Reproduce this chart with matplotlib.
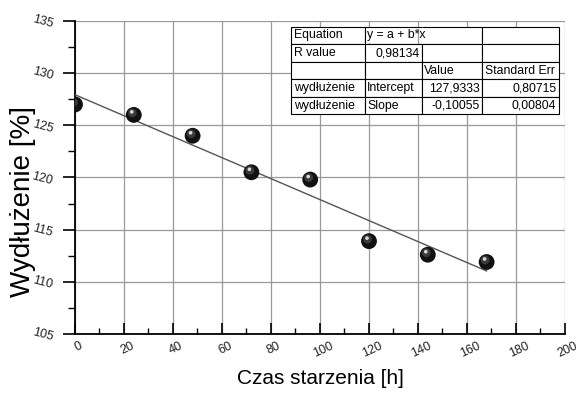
import matplotlib
matplotlib.use('Agg')
from matplotlib import pyplot as plt
from matplotlib import ticker, transforms
import numpy as np

plt.rcParams['font.family'] = ['Liberation Sans', 'DejaVu Sans']

# data
czas = [0, 24, 48, 72, 96, 120, 144, 168]
wydluzenie = [127.0, 126.0, 124.0, 120.5, 119.8, 113.9, 112.6, 111.9]

# fit results from the table
intercept = 127.9333
slope = -0.10055

table_rows = [
    ['Equation', '', '', ''],
    ['R value', '0,98134', '', ''],
    ['', '', 'Value', 'Standard Err'],
    ['wydłużenie', 'Intercept', '127,9333', '0,80715'],
    ['wydłużenie', 'Slope', '-0,10055', '0,00804'],
]
equation = 'y = a + b*x'
col_w = [74, 57, 60, 77]

fig = plt.figure(figsize=(5.76, 3.94), dpi=100)
ax = fig.add_axes([0.1302, 0.1523, 0.8507, 0.7944])

ax.set_xlim(0, 200)
ax.set_ylim(105, 135)
ax.xaxis.set_major_locator(ticker.MultipleLocator(20))
ax.xaxis.set_minor_locator(ticker.MultipleLocator(10))
ax.yaxis.set_major_locator(ticker.MultipleLocator(5))
ax.yaxis.set_minor_locator(ticker.MultipleLocator(2.5))

ax.grid(True, which='major', color='#999999', linewidth=0.9)
ax.set_axisbelow(True)
for s in ['top', 'right']:
    ax.spines[s].set_visible(False)
for s in ['left', 'bottom']:
    ax.spines[s].set_linewidth(1.3)

ax.tick_params(axis='x', which='major', direction='in', length=8, width=1.2, pad=4)
ax.tick_params(axis='x', which='minor', direction='in', length=4, width=1.0)
ax.tick_params(axis='y', which='major', direction='out', length=9, width=1.2, pad=6)
ax.tick_params(axis='y', which='minor', direction='out', length=5, width=1.0)

xshift = transforms.ScaledTranslation(3 / 100, 0, fig.dpi_scale_trans)
yshift = transforms.ScaledTranslation(0, 3 / 100, fig.dpi_scale_trans)
for lab in ax.get_xticklabels():
    lab.set_rotation(25)
    lab.set_fontsize(9)
    lab.set_color('#222222')
    lab.set_transform(lab.get_transform() + xshift)
for lab in ax.get_yticklabels():
    lab.set_rotation(-15)
    lab.set_fontsize(9)
    lab.set_color('#222222')
    lab.set_transform(lab.get_transform() + yshift)

# fit line
xf = np.array([czas[0], czas[-1]])
ax.plot(xf, intercept + slope * xf, color='#555555', linewidth=1.0, zorder=3)

# sphere-like markers
ax.scatter(czas, wydluzenie, s=130, color='#111111', edgecolors='none', zorder=4)
hl = transforms.offset_copy(ax.transData, fig=fig, x=-1.5, y=2, units='dots')
ax.scatter(czas, wydluzenie, s=40, color='#3a3a3a', edgecolors='none', zorder=5, transform=hl)
hl2 = transforms.offset_copy(ax.transData, fig=fig, x=-2, y=3, units='dots')
ax.scatter(czas, wydluzenie, s=7, color='#d8d8d8', edgecolors='none', zorder=6, transform=hl2)

ax.set_xlabel('Czas starzenia [h]', fontsize=15, labelpad=7)
ax.set_ylabel('Wydłużenie [%]', fontsize=20)
ax.yaxis.set_label_coords(-0.079, 0.423)

# results table
tb_x, tb_y, tb_w, tb_h = 0.4408, 0.7013, 0.547, 0.2805
tab = ax.table(cellText=table_rows, colWidths=col_w,
               bbox=[tb_x, tb_y, tb_w, tb_h], zorder=10)
tab.auto_set_font_size(False)
tab.set_fontsize(8.8)
right_cols = {(1, 1), (3, 2), (3, 3), (4, 2), (4, 3)}
for (r, c), cell in tab.get_celld().items():
    cell.set_facecolor('white')
    cell.set_edgecolor('black')
    cell.set_linewidth(0.8)
    cell.PAD = 0.035
    if (r, c) in right_cols:
        cell.get_text().set_ha('right')
        cell._loc = 'right'
    else:
        cell.get_text().set_ha('left')
        cell._loc = 'left'
tab[0, 1].visible_edges = 'BTL'
tab[0, 2].visible_edges = 'BTR'

# equation text spans two cells, drawn on top of the table
eq_x = tb_x + tb_w * (col_w[0] + 0.035 * col_w[1]) / sum(col_w)
eq_y = tb_y + tb_h * 4.5 / 5
ax.text(eq_x, eq_y, equation, transform=ax.transAxes, fontsize=8.8,
        ha='left', va='center', zorder=11)

fig.savefig('out.png', dpi=100)
